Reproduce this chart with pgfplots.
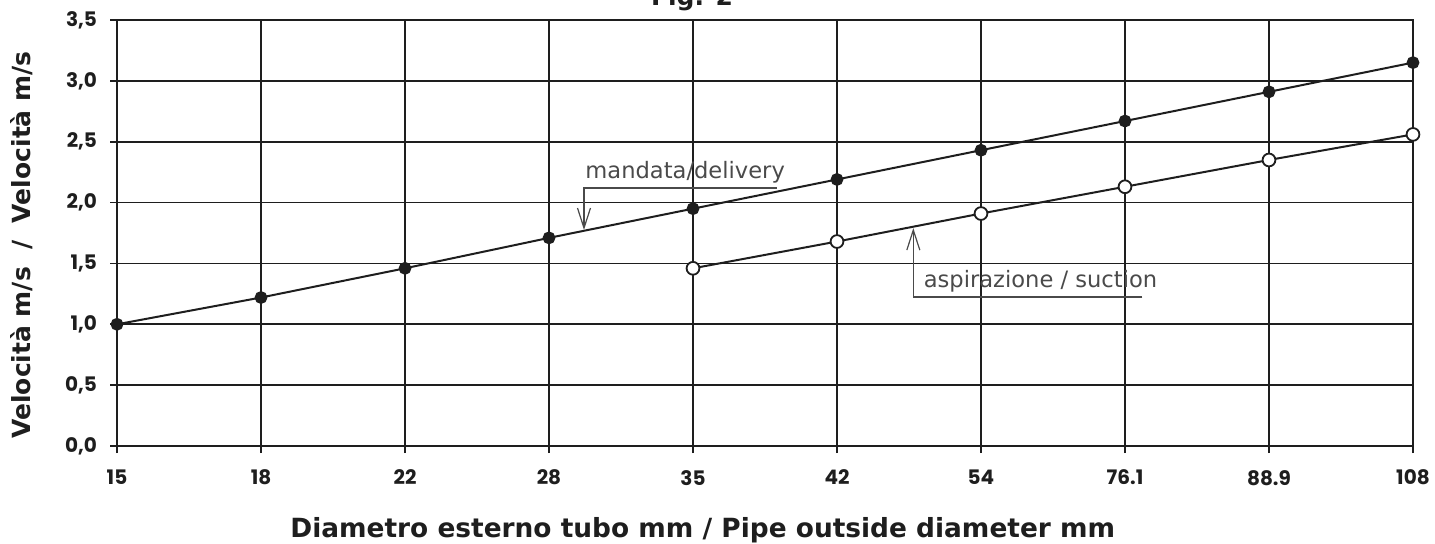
\documentclass[border=0pt]{standalone}
\usepackage{pgfplots}
\pgfplotsset{compat=1.18}
\usepackage{fontspec}
\setmainfont{DejaVu Sans}
\newfontfamily\tickfont{Poppins}
\usetikzlibrary{arrows.meta}
\definecolor{ink}{HTML}{1E1E1E}
\definecolor{annot}{HTML}{4A4A4A}
\pgfplotstableread{
x y
0 1.00
1 1.22
2 1.46
3 1.71
4 1.95
5 2.19
6 2.43
7 2.67
8 2.91
9 3.15
}\delivery
\pgfplotstableread{
x y
4 1.46
5 1.68
6 1.91
7 2.13
8 2.35
9 2.56
}\suction
\begin{document}
\begin{tikzpicture}
\begin{axis}[
  at={(0,0)}, anchor=south west, scale only axis,
  width=648pt, height=213pt,
  xmin=0, xmax=9, ymin=0, ymax=3.5,
  xtick={0,...,9},
  xticklabels={15,18,22,28,35,42,54,76.1,88.9,108},
  ytick={0,0.5,...,3.5},
  grid=major,
  grid style={ink, line width=0.85pt},
  axis line style={ink, line width=0.9pt},
  tick style={ink, line width=0.8pt},
  tick align=outside, major tick length=3.5pt,
  tick pos=left,
  /pgf/number format/.cd, use comma, fixed, fixed zerofill, precision=1, assume math mode=true,
  /pgfplots/.cd,
  ticklabel style={font=\tickfont\bfseries\fontsize{10}{12}\selectfont, text=ink},
  xticklabel style={yshift=-5pt},
  yticklabel style={xshift=-3pt},
  clip=false,
]
\addplot[ink, line width=1pt, mark=*, mark size=2.7pt, mark options={fill=ink, draw=ink}] table[x=x,y=y] {\delivery};
\addplot[ink, line width=1pt, mark=*, mark size=3.2pt, mark options={fill=white, draw=ink, line width=0.9pt}] table[x=x,y=y] {\suction};
% annotations
\draw[annot, line width=0.6pt, -{Straight Barb[length=10pt,width=6.5pt]}] (axis cs:4.58,2.12) -- (axis cs:3.243,2.12) -- (axis cs:3.243,1.775);
\node[anchor=base west, inner sep=0pt, text=annot, font=\fontsize{11.3}{13}\selectfont] at (axis cs:3.25,2.194) {mandata/delivery};
\draw[annot, line width=0.6pt, -{Straight Barb[length=10pt,width=6.5pt]}] (axis cs:7.12,1.224) -- (axis cs:5.53,1.224) -- (axis cs:5.53,1.79);
\node[anchor=base west, inner sep=0pt, text=annot, font=\fontsize{11.3}{13}\selectfont] at (axis cs:5.60,1.30) {aspirazione / suction};
% outer labels placed relative to the axis box
\node[font=\bfseries\fontsize{13.2}{15}\selectfont, text=ink, anchor=base, inner sep=0pt] at (rel axis cs:0.452,-0.2137) {Diametro esterno tubo mm / Pipe outside diameter mm};
\node[font=\bfseries\fontsize{12.5}{14}\selectfont, text=ink, rotate=90] at (rel axis cs:-0.0733,0.4718) {Velocità m/s\ \ /\ \ Velocità m/s};
\node[font=\bfseries\fontsize{12.5}{14}\selectfont, text=ink, anchor=base] at (rel axis cs:0.4437,1.0352) {Fig. 2};
\coordinate (bbsw) at (rel axis cs:-0.09028,-0.22770);
\coordinate (bbne) at (rel axis cs:1.01698,1.04695);
\end{axis}
\pgfresetboundingbox
\useasboundingbox (bbsw) rectangle (bbne);
\end{tikzpicture}
\end{document}
